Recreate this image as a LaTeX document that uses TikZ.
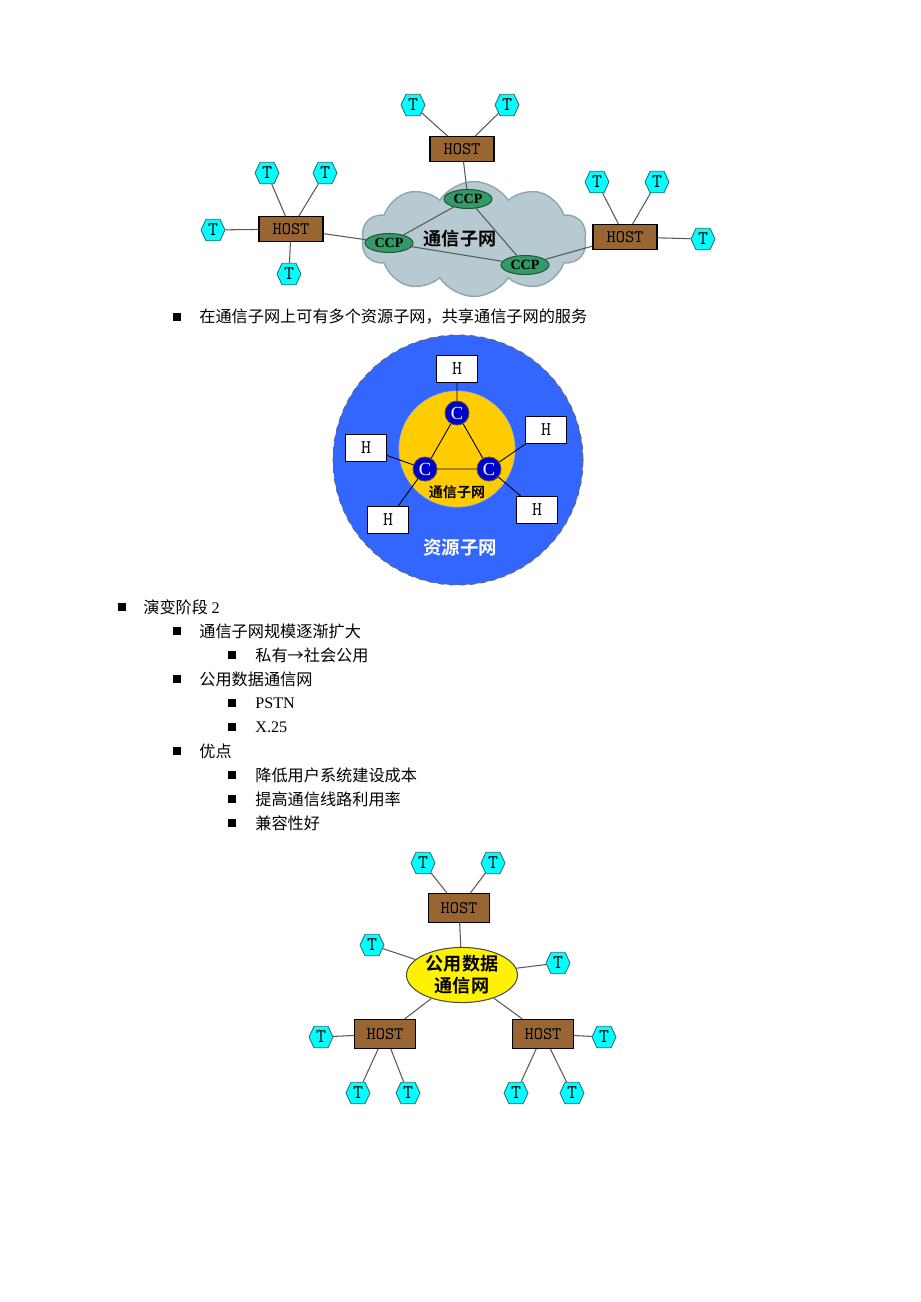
\documentclass[tikz,border=0pt]{standalone}
\usepackage{fontspec}
\setmainfont{Liberation Serif}
\newfontfamily\cjk{Noto Sans CJK SC}[BoldFont={Noto Sans CJK SC Bold}]
\usetikzlibrary{shapes.symbols}
\usetikzlibrary{shapes.geometric}
\definecolor{termCyan}{HTML}{00FFFF}
\definecolor{termEdge}{HTML}{2F6F77}
\definecolor{hostBrown}{HTML}{996633}
\definecolor{ccpGreen}{HTML}{339966}
\definecolor{ccpEdge}{HTML}{1E5A3C}
\definecolor{cloudFill}{HTML}{B7C9D1}
\definecolor{cloudEdge}{HTML}{8EA6B0}
\definecolor{resBlue}{HTML}{3366FF}
\definecolor{commGold}{HTML}{FFCC00}
\definecolor{cBlue}{HTML}{0000CC}
\tikzset{linkLine/.style={draw=black!65,line width=0.6pt}}
\tikzset{termNode/.style={shape=signal,signal to=west and east,signal pointer angle=130,fill=termCyan,draw=termEdge,line width=0.5pt,minimum width=0.48cm,minimum height=0.43cm,inner sep=0pt,font=\ttfamily\fontsize{11}{11}\selectfont}}
\tikzset{hostBox/.style={rectangle,fill=hostBrown,draw=black,line width=0.6pt,minimum width=1.28cm,minimum height=0.5cm,inner sep=0pt,font=\ttfamily\fontsize{10}{10}\selectfont}}
\tikzset{ccpNode/.style={ellipse,fill=ccpGreen,draw=ccpEdge,line width=0.6pt,minimum width=0.96cm,minimum height=0.38cm,inner sep=0pt,font=\bfseries\fontsize{8}{8}\selectfont}}
\tikzset{hBox/.style={rectangle,fill=white,draw=black,line width=0.5pt,minimum width=0.82cm,minimum height=0.54cm,inner sep=0pt,font=\ttfamily\fontsize{11}{11}\selectfont}}
\tikzset{cNode/.style={circle,fill=cBlue,draw=black!70,line width=0.5pt,minimum size=0.48cm,inner sep=0pt,text=white,font=\fontsize{10.5}{10}\selectfont}}
\tikzset{listBullet/.style={rectangle,fill=black,minimum size=0.16cm,inner sep=0pt}}
\tikzset{listText/.style={anchor=west,inner sep=0pt,font=\cjk\fontsize{9.2}{11}\selectfont}}

\begin{document}
\begin{tikzpicture}[x=0.02cm,y=-0.02cm]
\useasboundingbox (0,0) rectangle (920,1302);

% communication subnet with hosts
\node[shape=cloud,cloud puffs=10,cloud puff arc=115,aspect=2,fill=cloudFill,draw=cloudEdge,line width=0.8pt,minimum width=4.5cm,minimum height=2.3cm] (cloud) at (474,239) {};
\node[font=\cjk\bfseries\fontsize{10.3}{12}\selectfont] (cloudLabel) at (460,239) {通信子网};
\node[hostBox] (topHost) at (462,149) {HOST};
\node[hostBox] (leftHost) at (291,229) {HOST};
\node[hostBox] (rightHost) at (625,237) {HOST};
\node[ccpNode] (ccpA) at (468,199) {CCP};
\node[ccpNode] (ccpB) at (389,243) {CCP};
\node[ccpNode] (ccpC) at (525,265) {CCP};
\node[termNode] (topT1) at (413,105) {T};
\node[termNode] (topT2) at (507,105) {T};
\node[termNode] (leftT1) at (267,173) {T};
\node[termNode] (leftT2) at (325,173) {T};
\node[termNode] (leftT3) at (213,230) {T};
\node[termNode] (leftT4) at (289,274) {T};
\node[termNode] (rightT1) at (597,182) {T};
\node[termNode] (rightT2) at (657,182) {T};
\node[termNode] (rightT3) at (703,239) {T};
\path[linkLine] (topT1) -- (topHost) (topT2) -- (topHost) (topHost) -- (ccpA);
\path[linkLine] (ccpA) -- (ccpB) (ccpA) -- (ccpC) (ccpB) -- (ccpC);
\path[linkLine] (leftHost) -- (ccpB) (ccpC) -- (rightHost);
\path[linkLine] (leftT1) -- (leftHost) (leftT2) -- (leftHost) (leftT3) -- (leftHost) (leftT4) -- (leftHost);
\path[linkLine] (rightT1) -- (rightHost) (rightT2) -- (rightHost) (rightT3) -- (rightHost);

\node[listBullet] (bulShare) at (177,317) {};
\node[listText] (txtShare) at (199,317) {在通信子网上可有多个资源子网，共享通信子网的服务};

% resource subnet around the communication subnet
\node[circle,fill=resBlue,draw=black!60,dashed,line width=0.6pt,minimum size=5cm,inner sep=0pt] (resNet) at (458,460) {};
\node[circle,fill=commGold,draw=black!30,line width=0.4pt,minimum size=2.32cm,inner sep=0pt] (commNet) at (457,449) {};
\node[cNode] (cTop) at (457,413) {C};
\node[cNode] (cLeft) at (425,469) {C};
\node[cNode] (cRight) at (489,469) {C};
\node[hBox] (hTop) at (457,369) {H};
\node[hBox] (hLeft) at (366,448) {H};
\node[hBox] (hRight) at (546,430) {H};
\node[hBox] (hLowL) at (388,520) {H};
\node[hBox] (hLowR) at (537,510) {H};
\draw[black,line width=0.5pt] (cTop) -- (cLeft) -- (cRight) -- (cTop);
\draw[black,line width=0.5pt] (hTop) -- (cTop) (hLeft) -- (cLeft) (hLowL) -- (cLeft) (hRight) -- (cRight) (hLowR) -- (cRight);
\node[font=\cjk\bfseries\fontsize{8}{10}\selectfont] (commLabel) at (457,492) {通信子网};
\node[text=white,font=\cjk\bfseries\fontsize{10.5}{12}\selectfont] (resLabel) at (460,548) {资源子网};

% evolution stage 2
\node[listBullet] (bul1) at (122,607) {};
\node[listText] (txt1) at (143,607) {演变阶段 {\rmfamily 2}};
\node[listBullet] (bul2) at (177,631) {};
\node[listText] (txt2) at (199,631) {通信子网规模逐渐扩大};
\node[listBullet] (bul3) at (232,655) {};
\node[listText] (txt3) at (255,655) {私有→社会公用};
\node[listBullet] (bul4) at (177,679) {};
\node[listText] (txt4) at (199,679) {公用数据通信网};
\node[listBullet] (bul5) at (232,703) {};
\node[listText] (txt5) at (255,703) {\rmfamily PSTN};
\node[listBullet] (bul6) at (232,727) {};
\node[listText] (txt6) at (255,727) {\rmfamily X.25};
\node[listBullet] (bul7) at (177,751) {};
\node[listText] (txt7) at (199,751) {优点};
\node[listBullet] (bul8) at (232,775) {};
\node[listText] (txt8) at (255,775) {降低用户系统建设成本};
\node[listBullet] (bul9) at (232,799) {};
\node[listText] (txt9) at (255,799) {提高通信线路利用率};
\node[listBullet] (bul10) at (232,823) {};
\node[listText] (txt10) at (255,823) {兼容性好};

% public data network
\node[ellipse,fill=yellow,draw=black!70,line width=0.6pt,minimum width=2.22cm,minimum height=1.1cm,inner sep=0pt,align=center,font=\cjk\bfseries\fontsize{10.3}{12.5}\selectfont] (pubNet) at (462,975) {公用数据\\通信网};
\node[hostBox,minimum width=1.22cm,minimum height=0.58cm] (pubTopHost) at (459,908) {HOST};
\node[hostBox,minimum width=1.22cm,minimum height=0.58cm] (pubLeftHost) at (385,1034) {HOST};
\node[hostBox,minimum width=1.22cm,minimum height=0.58cm] (pubRightHost) at (543,1034) {HOST};
\node[termNode] (pubT1) at (423,863) {T};
\node[termNode] (pubT2) at (493,863) {T};
\node[termNode] (pubT3) at (372,945) {T};
\node[termNode] (pubT4) at (558,963) {T};
\node[termNode] (pubT5) at (321,1037) {T};
\node[termNode] (pubT6) at (358,1093) {T};
\node[termNode] (pubT7) at (408,1093) {T};
\node[termNode] (pubT8) at (604,1037) {T};
\node[termNode] (pubT9) at (516,1093) {T};
\node[termNode] (pubT10) at (572,1093) {T};
\path[linkLine] (pubT1) -- (pubTopHost) (pubT2) -- (pubTopHost) (pubTopHost) -- (pubNet);
\path[linkLine] (pubT3) -- (pubNet) (pubT4) -- (pubNet) (pubNet) -- (pubLeftHost) (pubNet) -- (pubRightHost);
\path[linkLine] (pubT5) -- (pubLeftHost) (pubT6) -- (pubLeftHost) (pubT7) -- (pubLeftHost);
\path[linkLine] (pubT8) -- (pubRightHost) (pubT9) -- (pubRightHost) (pubT10) -- (pubRightHost);
\end{tikzpicture}
\end{document}
